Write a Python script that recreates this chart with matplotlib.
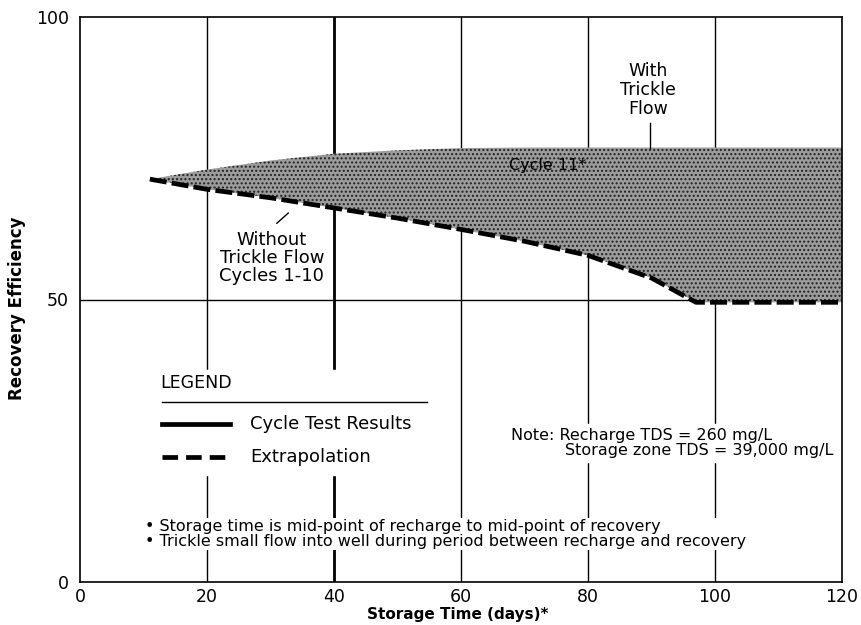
import matplotlib.pyplot as plt
import numpy as np

# lower boundary: without trickle flow, cycles 1-10 (and extrapolation)
x_without = [11, 20, 30, 40, 50, 60, 70, 80, 90, 97, 100, 110, 120]
y_without = [71.3, 69.5, 68.0, 66.2, 64.4, 62.4, 60.3, 57.8, 53.8, 49.5, 49.5, 49.5, 49.5]

# upper boundary: with trickle flow, cycle 11
x_with = [11, 20, 30, 40, 50, 60, 70, 80, 90, 97, 100, 110, 120]
y_with = [71.3, 73.0, 74.6, 75.8, 76.4, 76.8, 76.9, 76.9, 76.9, 76.9, 76.9, 76.9, 76.9]

x_ticks = [0, 20, 40, 60, 80, 100, 120]
y_ticks = [0, 50, 100]

plt.rcParams["font.family"] = ["DejaVu Sans"]

fig = plt.figure(figsize=(8.61, 6.25), dpi=100)
ax = fig.add_axes([0.0929, 0.0688, 0.8851, 0.904])

ax.set_xlim(0, 120)
ax.set_ylim(0, 100)
ax.set_xticks(x_ticks)
ax.set_yticks(y_ticks)
ax.tick_params(length=0, labelsize=12.5)
ax.tick_params(axis="x", pad=4)
ax.tick_params(axis="y", pad=8)
for s in ax.spines.values():
    s.set_linewidth(1.2)
    s.set_color("black")

# grid
for xv in x_ticks[1:-1]:
    ax.axvline(xv, color="black", linewidth=2.0 if xv == 40 else 1.0, zorder=1)
ax.axhline(50, color="black", linewidth=1.0, zorder=1)

# shaded band between the curves
ax.fill_between(x_with, y_without, y_with, facecolor="#9c9c9c", edgecolor="#222222",
                hatch="....", linewidth=0, zorder=2)
ax.plot(x_without, y_without, color="black", linestyle=(0, (3.6, 1.1)), linewidth=3.4,
        zorder=3, dash_capstyle="butt")

ax.set_xlabel("Storage Time (days)*", fontsize=11, fontweight="bold", va="center")
ax.set_ylabel("Recovery Efficiency", fontsize=12, fontweight="bold", va="center", ha="center")
ax.xaxis.set_label_coords(0.496, -0.057)
ax.yaxis.set_label_coords(-0.083, 0.485)

# annotations
ax.text(89.4, 87.1, "With\nTrickle\nFlow", ha="center", va="center", fontsize=12.5,
        linespacing=1.05, zorder=4)
ax.plot([89.7, 89.7], [81.3, 76.9], color="black", linewidth=1.0, zorder=4)
ax.text(73.7, 73.8, "Cycle 11*", ha="center", va="center", fontsize=11.5, zorder=4)
ax.text(30.2, 57.3, "Without\nTrickle Flow\nCycles 1-10", ha="center", va="center",
        fontsize=13, linespacing=1.0, zorder=4)
ax.plot([32.8, 31.0], [65.3, 63.5], color="black", linewidth=1.0, zorder=4)

# legend box drawn by hand
ax.fill_between([11.8, 55.1], [18.9, 18.9], [37.5, 37.5], color="white", zorder=3)
ax.text(12.6, 35.2, "LEGEND", ha="left", va="center", fontsize=12.5, zorder=4)
ax.plot([12.9, 54.6], [31.9, 31.9], color="black", linewidth=1.0, zorder=4)
ax.plot([12.9, 23.6], [28.0, 28.0], color="black", linewidth=3.4, zorder=4)
ax.plot([12.9, 23.6], [22.1, 22.1], color="black", linewidth=3.4, zorder=4,
        linestyle=(0, (3.3, 1.7)), dash_capstyle="butt")
ax.text(26.8, 28.0, "Cycle Test Results", ha="left", va="center", fontsize=13, zorder=4)
ax.text(26.8, 22.1, "Extrapolation", ha="left", va="center", fontsize=13, zorder=4)

ax.fill_between([67.3, 114], [21.3, 21.3], [28.0, 28.0], color="white", zorder=3)
ax.text(67.9, 26.0, "Note: Recharge TDS = 260 mg/L", ha="left", va="center",
        fontsize=11.5, zorder=4)
ax.text(76.4, 23.2, "Storage zone TDS = 39,000 mg/L", ha="left", va="center",
        fontsize=11.5, zorder=4)

ax.text(10.2, 8.5, "\u2022 Storage time is mid-point of recharge to mid-point of recovery\n"
        "\u2022 Trickle small flow into well during period between recharge and recovery",
        ha="left", va="center", fontsize=11.5, linespacing=0.95, zorder=4,
        bbox=dict(facecolor="white", edgecolor="none", pad=1))

fig.savefig("out.png", dpi=100)
